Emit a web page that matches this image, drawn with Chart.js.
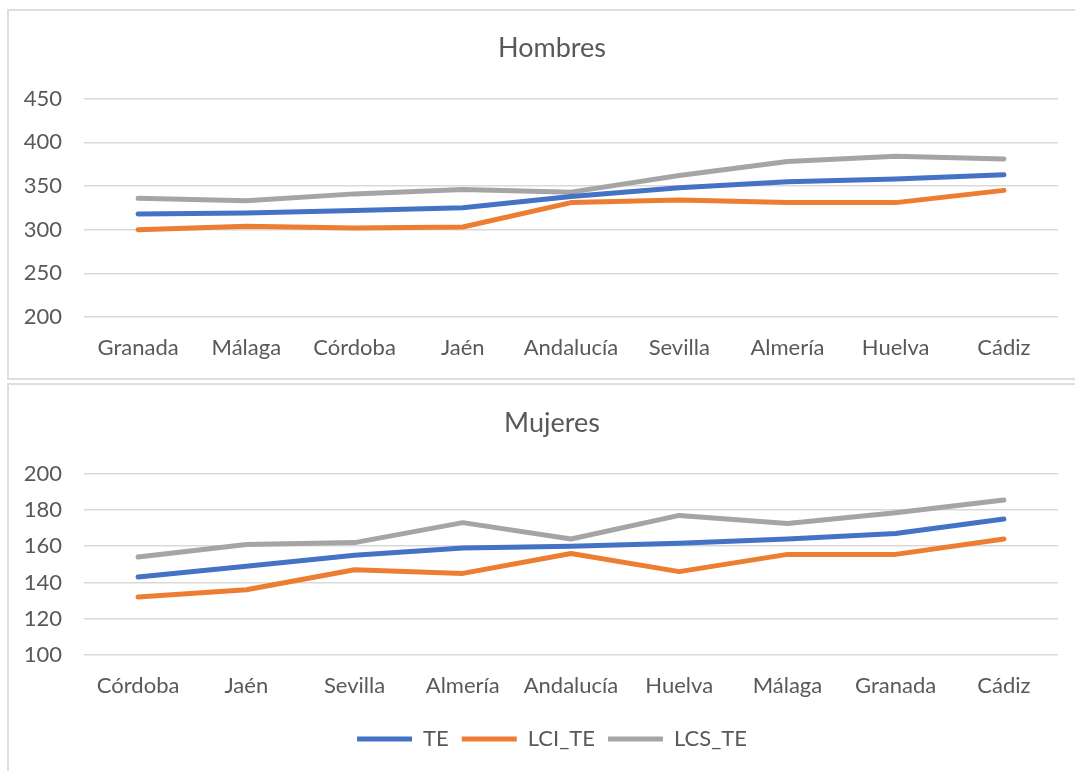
<!DOCTYPE html>
<html>
<head>
<meta charset="utf-8">
<script src="https://cdn.jsdelivr.net/npm/chart.js@4/dist/chart.umd.min.js"></script>
<style>
  body { margin: 0; background: #fff; width: 1075px; height: 771px; overflow: hidden; position: relative; }
  .panel { position: absolute; left: 7px; width: 1100px; border: 2px solid #DEDEDE; box-sizing: border-box; }
  .wrap { position: absolute; left: 8px; width: 1088px; }
</style>
</head>
<body>
<div class="panel" style="top:9px;height:371px;"></div>
<div class="panel" style="top:383px;height:400px;"></div>
<div class="wrap" style="top:11px;height:366px;"><canvas id="hombres"></canvas></div>
<div class="wrap" style="top:386px;height:385px;"><canvas id="mujeres"></canvas></div>
<script>
const hombresLabels = ["Granada", "Málaga", "Córdoba", "Jaén", "Andalucía", "Sevilla", "Almería", "Huelva", "Cádiz"];
const hombresTE  = [318, 319, 322, 325, 338, 348, 355, 358, 363];
const hombresLCI = [300, 304, 302, 303, 331, 334, 331, 331, 345];
const hombresLCS = [336, 333, 341, 346, 343, 362, 378, 384, 381];

const mujeresLabels = ["Córdoba", "Jaén", "Sevilla", "Almería", "Andalucía", "Huelva", "Málaga", "Granada", "Cádiz"];
const mujeresTE  = [143, 149, 155, 159, 160, 161.6, 164, 167, 175];
const mujeresLCI = [132, 136, 147, 145, 156, 146, 155.5, 155.5, 164];
const mujeresLCS = [154, 161, 162, 173, 164, 177, 172.5, 178.5, 185.5];

const seriesNames = ["TE", "LCI_TE", "LCS_TE"];
const seriesColors = ["#4472C4", "#ED7D31", "#A5A5A5"];

const textColor = "#595959";
const fontFamily = "Lato, 'Open Sans', sans-serif";

function makeChart(id, labels, values, yMin, yMax, step, title, showLegend) {
  const ctx = document.getElementById(id).getContext("2d");
  return new Chart(ctx, {
    type: "line",
    data: {
      labels: labels,
      datasets: values.map((v, i) => ({
        label: seriesNames[i],
        data: v,
        borderColor: seriesColors[i],
        backgroundColor: seriesColors[i],
        borderWidth: 5,
        borderCapStyle: "round",
        borderJoinStyle: "round",
        pointRadius: 0,
        tension: 0
      }))
    },
    options: {
      responsive: true,
      maintainAspectRatio: false,
      animation: false,
      layout: { padding: { left: 0, right: 0, top: 0, bottom: showLegend ? 11 : 0 } },
      scales: {
        x: {
          offset: true,
          grid: { display: false, drawTicks: false },
          border: { display: false },
          ticks: { color: textColor, font: { family: fontFamily, size: 22 }, padding: 18, maxRotation: 0, autoSkip: false },
          afterFit: (scale) => { scale.height = 60; }
        },
        y: {
          min: yMin,
          max: yMax,
          grid: { color: "#D9D9D9", lineWidth: 1.5, drawTicks: false },
          border: { display: false },
          ticks: { stepSize: step, color: textColor, font: { family: fontFamily, size: 22 }, padding: 22 },
          afterFit: (scale) => { scale.width = 76; }
        },
        // empty right-hand spacer so title and legend sit centred like the original
        spacer: {
          type: "linear",
          position: "right",
          min: 0,
          max: 1,
          grid: { display: false, drawTicks: false },
          border: { display: false },
          ticks: { display: false },
          afterFit: (scale) => { scale.width = 38; }
        }
      },
      plugins: {
        title: {
          display: true,
          text: title,
          color: textColor,
          font: { family: fontFamily, size: 27, weight: "normal" },
          padding: { top: 20.8, bottom: 34.5 }
        },
        legend: {
          display: showLegend,
          position: "bottom",
          labels: {
            usePointStyle: true,
            pointStyle: "line",
            pointStyleWidth: 55,
            color: textColor,
            font: { family: fontFamily, size: 22 },
            padding: 13
          }
        },
        tooltip: { enabled: false }
      }
    }
  });
}

makeChart("hombres", hombresLabels, [hombresTE, hombresLCI, hombresLCS], 200, 450, 50, "Hombres", false);
makeChart("mujeres", mujeresLabels, [mujeresTE, mujeresLCI, mujeresLCS], 100, 200, 20, "Mujeres", true);
</script>
</body>
</html>
